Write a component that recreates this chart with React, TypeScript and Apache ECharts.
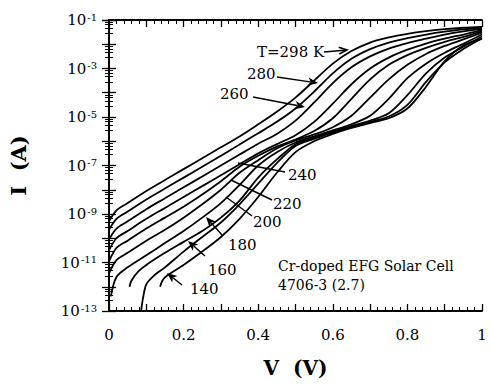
import React, { useEffect, useRef } from 'react';
import * as echarts from 'echarts';

// Tick labels
const xTickLabels = ['0', '0.2', '0.4', '0.6', '0.8', '1'];
const yLabelExponents = [-1, -3, -5, -7, -9, -11, -13];

// I-V curves: [V (volts), log10 I (A)]
const c298: [number, number][] = [[0, -9.3], [0.02, -8.85], [0.05, -8.55], [0.1, -8.05], [0.15, -7.6], [0.2, -7.15], [0.25, -6.7], [0.3, -6.25], [0.35, -5.8], [0.4, -5.3], [0.45, -4.78], [0.5, -4.2], [0.55, -3.5], [0.6, -2.8], [0.65, -2.28], [0.7, -1.93], [0.75, -1.72], [0.8, -1.57], [0.85, -1.46], [0.9, -1.38], [0.95, -1.32], [1, -1.28]];
const c280: [number, number][] = [[0, -9.65], [0.02, -9.2], [0.05, -8.9], [0.1, -8.4], [0.15, -7.95], [0.2, -7.5], [0.25, -7.05], [0.3, -6.6], [0.35, -6.13], [0.4, -5.67], [0.45, -5.2], [0.5, -4.65], [0.55, -3.95], [0.6, -3.2], [0.65, -2.6], [0.7, -2.2], [0.75, -1.93], [0.8, -1.75], [0.85, -1.6], [0.9, -1.48], [0.95, -1.39], [1, -1.32]];
const c260: [number, number][] = [[0, -10.05], [0.02, -9.6], [0.05, -9.3], [0.1, -8.8], [0.15, -8.35], [0.2, -7.9], [0.25, -7.45], [0.3, -7.0], [0.35, -6.55], [0.4, -6.1], [0.45, -5.7], [0.5, -5.15], [0.55, -4.4], [0.6, -3.6], [0.65, -2.95], [0.7, -2.5], [0.75, -2.18], [0.8, -1.95], [0.85, -1.77], [0.9, -1.6], [0.95, -1.47], [1, -1.37]];
const c250: [number, number][] = [[0, -10.5], [0.02, -10.0], [0.05, -9.7], [0.1, -9.2], [0.15, -8.75], [0.2, -8.3], [0.25, -7.85], [0.3, -7.4], [0.35, -6.95], [0.4, -6.5], [0.45, -6.12], [0.5, -5.75], [0.55, -5.2], [0.6, -4.45], [0.65, -3.65], [0.7, -3.0], [0.75, -2.55], [0.8, -2.22], [0.85, -1.97], [0.9, -1.77], [0.95, -1.6], [1, -1.42]];
const c240: [number, number][] = [[0, -10.95], [0.02, -10.4], [0.05, -10.1], [0.1, -9.6], [0.15, -9.15], [0.2, -8.7], [0.25, -8.2], [0.3, -7.65], [0.35, -7.05], [0.4, -6.6], [0.45, -6.22], [0.5, -5.93], [0.55, -5.58], [0.6, -5.05], [0.65, -4.25], [0.7, -3.45], [0.75, -2.85], [0.8, -2.45], [0.85, -2.15], [0.9, -1.9], [0.95, -1.7], [1, -1.47]];
const c220: [number, number][] = [[0, -11.45], [0.02, -10.9], [0.05, -10.6], [0.1, -10.1], [0.15, -9.65], [0.2, -9.15], [0.25, -8.6], [0.3, -8.0], [0.35, -7.3], [0.4, -6.78], [0.45, -6.3], [0.5, -5.97], [0.55, -5.72], [0.6, -5.42], [0.65, -4.95], [0.7, -4.2], [0.75, -3.45], [0.8, -2.85], [0.85, -2.4], [0.9, -2.07], [0.95, -1.8], [1, -1.52]];
const c200: [number, number][] = [[0.005, -12.4], [0.02, -11.6], [0.05, -11.2], [0.1, -10.7], [0.15, -10.2], [0.2, -9.7], [0.25, -9.15], [0.3, -8.55], [0.35, -7.8], [0.4, -7.0], [0.45, -6.45], [0.5, -6.05], [0.55, -5.8], [0.6, -5.55], [0.65, -5.3], [0.7, -4.95], [0.75, -4.25], [0.8, -3.4], [0.85, -2.8], [0.9, -2.35], [0.95, -1.98], [1, -1.6]];
const c180: [number, number][] = [[0.055, -12.0], [0.06, -11.75], [0.08, -11.35], [0.1, -11.1], [0.15, -10.6], [0.2, -10.15], [0.25, -9.7], [0.3, -9.15], [0.35, -8.45], [0.4, -7.5], [0.45, -6.75], [0.5, -6.12], [0.55, -5.85], [0.6, -5.6], [0.65, -5.37], [0.7, -5.15], [0.75, -4.85], [0.8, -4.1], [0.85, -3.2], [0.9, -2.55], [0.95, -2.1], [1, -1.68]];
const c160: [number, number][] = [[0.086, -13], [0.092, -12.4], [0.1, -11.9], [0.12, -11.55], [0.15, -11.2], [0.2, -10.55], [0.25, -9.95], [0.3, -9.35], [0.35, -8.6], [0.4, -7.75], [0.45, -6.9], [0.5, -6.2], [0.55, -5.9], [0.6, -5.65], [0.65, -5.42], [0.7, -5.2], [0.75, -4.98], [0.8, -4.5], [0.85, -3.55], [0.9, -2.75], [0.95, -2.2], [1, -1.75]];
const c140: [number, number][] = [[0.137, -12.0], [0.143, -11.75], [0.155, -11.55], [0.2, -11.1], [0.25, -10.55], [0.3, -9.95], [0.35, -9.2], [0.4, -8.3], [0.45, -7.3], [0.5, -6.45], [0.55, -6.0], [0.6, -5.7], [0.65, -5.45], [0.7, -5.25], [0.75, -5.05], [0.8, -4.65], [0.85, -3.75], [0.9, -2.7], [0.95, -2.05], [1, -1.78]];

const curves = [
  { name: '298 K', pts: c298 },
  { name: '280 K', pts: c280 },
  { name: '260 K', pts: c260 },
  { name: '250 K', pts: c250 },
  { name: '240 K', pts: c240 },
  { name: '220 K', pts: c220 },
  { name: '200 K', pts: c200 },
  { name: '180 K', pts: c180 },
  { name: '160 K', pts: c160 },
  { name: '140 K', pts: c140 },
];

const SERIF = 'DejaVu Serif';

function arrow(x1: number, y1: number, x2: number, y2: number, head: number, mode: 'filled' | 'open' | 'none') {
  const dx = x2 - x1, dy = y2 - y1;
  const len = Math.sqrt(dx * dx + dy * dy);
  const ux = dx / len, uy = dy / len;
  const px = -uy, py = ux;
  const bx = x2 - ux * head, by = y2 - uy * head;
  const w = head * 0.42;
  const children: any[] = [
    { type: 'line', shape: { x1, y1, x2: mode === 'filled' ? bx + ux * 2 : x2, y2: mode === 'filled' ? by + uy * 2 : y2 }, style: { stroke: '#000', lineWidth: 1.4 } },
  ];
  if (mode === 'filled') {
    children.push({ type: 'polygon', shape: { points: [[x2, y2], [bx + px * w, by + py * w], [bx + ux * head * 0.25, by + uy * head * 0.25], [bx - px * w, by - py * w]] }, style: { fill: '#000' } });
  } else if (mode === 'open') {
    children.push({ type: 'polyline', shape: { points: [[bx + px * w, by + py * w], [x2, y2], [bx - px * w, by - py * w]] }, style: { stroke: '#000', lineWidth: 1.6, fill: 'none' } });
  }
  return { type: 'group', children };
}

function label(text: string, x: number, y: number, size: number = 15) {
  return { type: 'text', x, y, style: { text, fontFamily: SERIF, fontSize: size, fill: '#000', verticalAlign: 'middle', align: 'left' } };
}

export default function App() {
  const ref = useRef<HTMLDivElement>(null);
  useEffect(() => {
    if (!ref.current) return;
    document.body.style.margin = '0';
    const chart = echarts.init(ref.current, null, { renderer: 'svg' });
    const axisLine = { show: true, lineStyle: { color: '#000', width: 2 } };
    const axisTick = { show: true, inside: true, length: 7, lineStyle: { color: '#000', width: 1.3 } };
    const minorX = { show: true, splitNumber: 5, length: 4, lineStyle: { color: '#000', width: 1 } };
    const minorY = { show: true, splitNumber: 5, length: 4, lineStyle: { color: '#000', width: 1 } };
    const yLabelFormatter = (v: number) => {
      const e = Math.round(Math.log10(v));
      return yLabelExponents.includes(e) ? `{b|10}{s|${e}}` : '';
    };
    chart.setOption({
      animation: false,
      backgroundColor: '#fff',
      textStyle: { fontFamily: SERIF },
      grid: { left: 100, right: 10, top: 20, bottom: 77, containLabel: false },
      xAxis: [
        {
          type: 'value', min: 0, max: 1, interval: 0.1, position: 'bottom',
          axisLine, axisTick, minorTick: minorX, splitLine: { show: false }, minorSplitLine: { show: false },
          axisLabel: {
            formatter: (v: number) => {
              const i = Math.round(v * 10);
              return i % 2 === 0 ? xTickLabels[i / 2] : '';
            },
            fontFamily: SERIF, fontSize: 15, color: '#000', margin: 16,
          },
          name: 'V  (V)', nameLocation: 'middle', nameGap: 47,
          nameTextStyle: { fontFamily: SERIF, fontWeight: 'bold', fontSize: 20, color: '#000' },
        },
        {
          type: 'value', min: 0, max: 1, interval: 0.1, position: 'top',
          axisLine, axisTick, minorTick: minorX, splitLine: { show: false },
          axisLabel: { show: false },
        },
      ],
      yAxis: [
        {
          type: 'log', logBase: 10, min: 1e-13, max: 1e-1, interval: 1, position: 'left',
          axisLine, axisTick, minorTick: minorY, splitLine: { show: false }, minorSplitLine: { show: false },
          axisLabel: {
            formatter: yLabelFormatter, margin: 12, color: '#000', fontFamily: SERIF,
            rich: {
              b: { fontFamily: SERIF, fontSize: 15, color: '#000', lineHeight: 16 },
              s: { fontFamily: SERIF, fontSize: 10, color: '#000', lineHeight: 10, verticalAlign: 'top', padding: [0, 0, 7, 1] },
            },
          },
          name: 'I  (A)', nameLocation: 'middle', nameGap: 80, nameRotate: 90,
          nameTextStyle: { fontFamily: SERIF, fontWeight: 'bold', fontSize: 21, color: '#000' },
        },
        {
          type: 'log', logBase: 10, min: 1e-13, max: 1e-1, interval: 1, position: 'right',
          axisLine, axisTick, minorTick: minorY, splitLine: { show: false },
          axisLabel: { show: false },
        },
      ],
      series: curves.map((c) => ({
        type: 'line',
        name: c.name,
        xAxisIndex: 0,
        yAxisIndex: 0,
        data: c.pts.map(([v, l]) => [v, Math.pow(10, l)]),
        showSymbol: false,
        smooth: 0.3,
        silent: true,
        lineStyle: { color: '#000', width: 1.8 },
      })),
      graphic: [
        label('T=298 K', 257, 52),
        arrow(324, 52, 347, 50, 8, 'open'),
        label('280', 247, 74),
        arrow(277, 77, 318, 83, 10, 'filled'),
        label('260', 220, 94),
        arrow(253, 97, 305, 107, 10, 'filled'),
        label('240', 288, 175),
        arrow(285, 172, 238, 163, 0.01, 'none'),
        label('220', 273, 204),
        arrow(272, 200, 231, 180, 0.01, 'none'),
        label('200', 253, 222),
        arrow(252, 216, 226, 197, 0.01, 'none'),
        label('180', 228, 245),
        arrow(222, 235, 206, 217, 10, 'filled'),
        label('160', 208, 270),
        arrow(205, 256, 188, 241, 10, 'filled'),
        label('140', 190, 289),
        arrow(182, 285, 167, 273, 10, 'filled'),
        label('Cr-doped EFG Solar Cell', 278, 266, 14),
        label('4706-3 (2.7)', 278, 285, 14),
      ],
    });
    return () => chart.dispose();
  }, []);
  return <div ref={ref} style={{ position: 'absolute', left: 0, top: 0, width: 492, height: 388, background: '#fff' }} />;
}
